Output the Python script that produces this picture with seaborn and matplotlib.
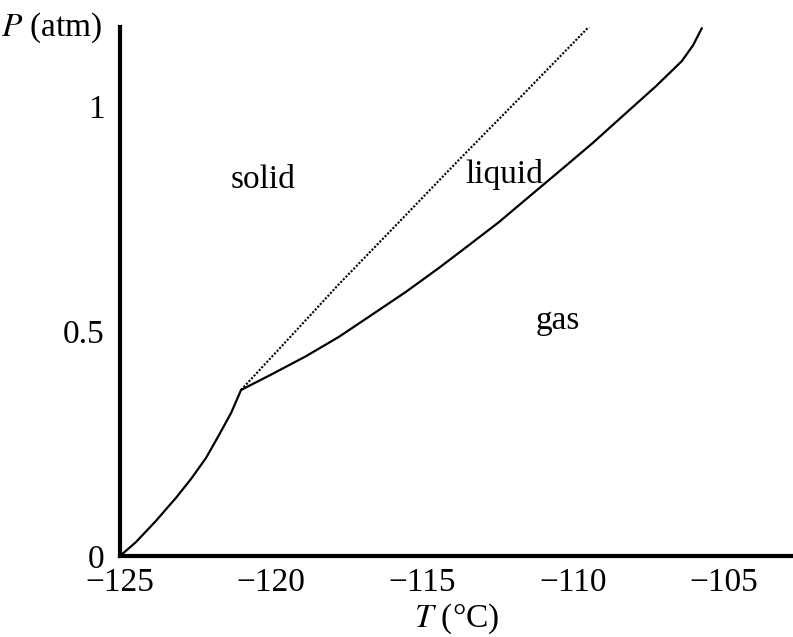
import numpy as np
import pandas as pd
import matplotlib
matplotlib.use("Agg")
import matplotlib.pyplot as plt
import seaborn as sns

# Sublimation curve (solid-gas)
subl_T = [-125.0, -124.47, -123.81, -123.15, -122.65, -122.15, -121.72, -121.32, -120.99]
subl_P = [0.0, 0.031, 0.078, 0.129, 0.171, 0.218, 0.269, 0.318, 0.369]
# Melting curve (solid-liquid), dotted
melt_T = [-120.99, -119.40, -117.75, -115.76, -113.78, -111.79, -109.47]
melt_P = [0.369, 0.484, 0.604, 0.742, 0.880, 1.016, 1.176]
# Vaporization curve (liquid-gas)
vap_T = [-120.99, -119.97, -118.84, -117.75, -116.66, -115.53, -114.44, -113.44,
         -112.45, -111.46, -110.36, -109.34, -108.38, -107.25, -106.39, -106.02, -105.73]
vap_P = [0.369, 0.404, 0.444, 0.487, 0.536, 0.587, 0.640, 0.691,
         0.742, 0.798, 0.860, 0.918, 0.976, 1.044, 1.100, 1.135, 1.173]

x_ticks = [-125, -120, -115, -110, -105]
y_ticks = [0, 0.5, 1]
y_tick_labels = ["0", "0.5", "1"]
region_labels = ["solid", "liquid", "gas"]
region_T = [-120.27, -112.28, -110.5]
region_P = [0.836, 0.847, 0.522]

sns.set_theme(style="white")
plt.rcParams["font.family"] = ["Liberation Serif", "DejaVu Serif"]
plt.rcParams["mathtext.fontset"] = "stix"
plt.rcParams["axes.unicode_minus"] = True

fig = plt.figure(figsize=(7.93, 6.37), dpi=100)
W, H = 793, 637
ax = fig.add_axes([120 / W, (H - 556) / H, (W - 120) / W, (556 - 27) / H])

sns.lineplot(x=subl_T, y=subl_P, sort=False, ax=ax, color="black", lw=1.6)
sns.lineplot(x=vap_T, y=vap_P, sort=False, ax=ax, color="black", lw=1.6)
sns.lineplot(x=melt_T, y=melt_P, sort=False, ax=ax, color="black", lw=1.5,
             linestyle=(0, (1, 0.8)))

ax.set_xlim(-125, -102.71)
ax.set_ylim(0, 1.1756)
ax.set_xticks(x_ticks)
ax.set_xticklabels([f"\u2212{abs(t)}" for t in x_ticks])
ax.set_yticks(y_ticks)
ax.set_yticklabels(y_tick_labels)
ax.tick_params(axis="both", length=0, labelsize=24, colors="black")
ax.tick_params(axis="x", pad=8)
ax.tick_params(axis="y", pad=11)

for side in ["top", "right"]:
    ax.spines[side].set_visible(False)
for side in ["left", "bottom"]:
    ax.spines[side].set_color("black")
    ax.spines[side].set_linewidth(3)

ax.set_xlabel("$T$ (°C)", fontsize=24, color="black", labelpad=3)
ax.set_ylabel("")
fig.text(103 / W, 1 - 36 / H, "$P$ (atm)", fontsize=24, ha="right",
         va="baseline", color="black")

for lab, t, p in zip(region_labels, region_T, region_P):
    ax.text(t, p, lab, fontsize=24, ha="center", va="center", color="black")

ax.set_facecolor("white")
fig.patch.set_facecolor("white")
fig.savefig("out.png", dpi=100)
